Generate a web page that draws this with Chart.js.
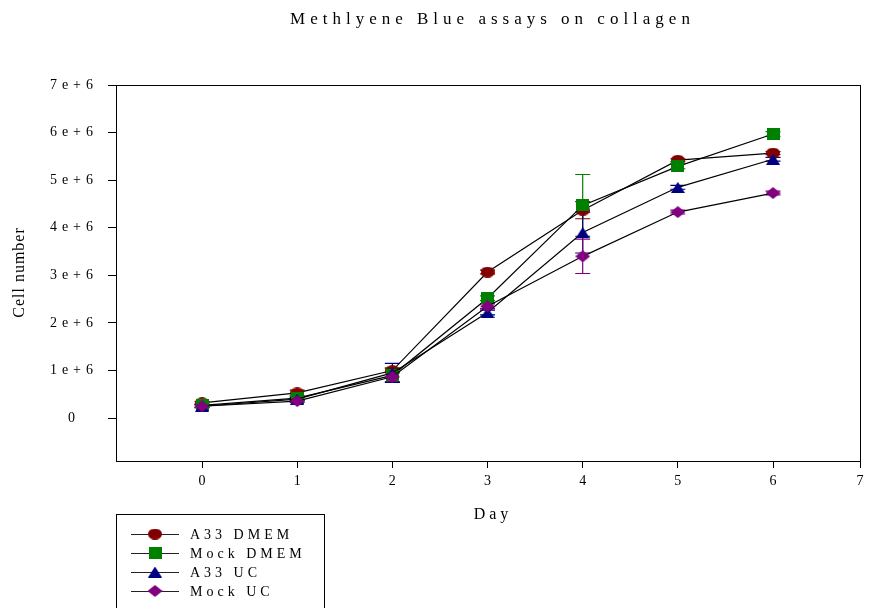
<!DOCTYPE html>
<html>
<head>
<meta charset="utf-8">
<script src="https://cdn.jsdelivr.net/npm/chart.js@4.4.1/dist/chart.umd.min.js"></script>
<style>
  html, body { margin: 0; padding: 0; background: #fff; }
  #wrap { width: 873px; height: 608px; }
</style>
</head>
<body>
<div id="wrap"><canvas id="c" width="873" height="608"></canvas></div>
<script>
// Cell counts (Methylene Blue assay) per day, with error bar half-widths
const days = [0, 1, 2, 3, 4, 5, 6];
const seriesNames = ['A33 DMEM', 'Mock DMEM', 'A33 UC', 'Mock UC'];
const a33Dmem    = [0.32e6, 0.53e6, 1.00e6, 3.07e6, 4.37e6, 5.42e6, 5.57e6];
const mockDmem   = [0.27e6, 0.42e6, 0.90e6, 2.52e6, 4.47e6, 5.29e6, 5.97e6];
const a33Uc      = [0.25e6, 0.40e6, 0.95e6, 2.22e6, 3.90e6, 4.85e6, 5.44e6];
const mockUc     = [0.25e6, 0.36e6, 0.87e6, 2.35e6, 3.40e6, 4.33e6, 4.73e6];
const a33DmemErr  = [0.03e6, 0.06e6, 0.05e6, 0.04e6, 0.18e6, 0.03e6, 0.03e6];
const mockDmemErr = [0.03e6, 0.04e6, 0.15e6, 0.05e6, 0.65e6, 0.05e6, 0.05e6];
const a33UcErr    = [0.03e6, 0.03e6, 0.20e6, 0.05e6, 0.43e6, 0.04e6, 0.04e6];
const mockUcErr   = [0.03e6, 0.03e6, 0.10e6, 0.05e6, 0.36e6, 0.04e6, 0.04e6];
const xTickValues = [0, 1, 2, 3, 4, 5, 6, 7];
const yTickValues = [0, 1e6, 2e6, 3e6, 4e6, 5e6, 6e6, 7e6];

const seriesValues = [a33Dmem, mockDmem, a33Uc, mockUc];
const seriesErrors = [a33DmemErr, mockDmemErr, a33UcErr, mockUcErr];
const seriesColors = ['#800000', '#008000', '#000080', '#800080'];
const seriesShapes = ['ellipse', 'square', 'triangle', 'diamond'];
const shapeSizes = { ellipse: [14, 11], square: [13, 12], triangle: [14, 11], diamond: [15, 12] };

const SERIF = '"Liberation Serif", "Times New Roman", serif';

function makeMarker(shape, color) {
  const [w, h] = shapeSizes[shape];
  const c = document.createElement('canvas');
  c.width = w; c.height = h;
  const g = c.getContext('2d');
  g.fillStyle = color;
  g.beginPath();
  if (shape === 'ellipse') g.ellipse(w / 2, h / 2, w / 2, h / 2, 0, 0, Math.PI * 2);
  else if (shape === 'square') g.rect(0, 0, w, h);
  else if (shape === 'triangle') { g.moveTo(w / 2, 0); g.lineTo(w, h); g.lineTo(0, h); g.closePath(); }
  else { g.moveTo(w / 2, 0); g.lineTo(w, h / 2); g.lineTo(w / 2, h); g.lineTo(0, h / 2); g.closePath(); }
  g.fill();
  return c;
}
const markers = seriesShapes.map((s, i) => makeMarker(s, seriesColors[i]));

// Draw a scale's tick labels with spaced-out lettering
function spaceLabels(scale, spacing) {
  if (scale._spacedLabels) return;
  const orig = scale.drawLabels.bind(scale);
  scale.drawLabels = area => {
    const ctx = scale.ctx;
    const prev = ctx.letterSpacing;
    ctx.letterSpacing = spacing;
    orig(area);
    ctx.letterSpacing = prev;
  };
  scale._spacedLabels = true;
}

// Vertical error bars with caps, behind the markers
const errorBarPlugin = {
  id: 'errorBars',
  beforeDatasetsDraw(chart) {
    const ctx = chart.ctx;
    const xs = chart.scales.x, ys = chart.scales.y;
    ctx.save();
    ctx.lineWidth = 1.2;
    seriesValues.forEach((vals, i) => {
      ctx.strokeStyle = seriesColors[i];
      vals.forEach((v, j) => {
        const e = seriesErrors[i][j];
        const px = xs.getPixelForValue(days[j]);
        const yTop = ys.getPixelForValue(v + e);
        const yBot = ys.getPixelForValue(v - e);
        ctx.beginPath();
        ctx.moveTo(px, yTop); ctx.lineTo(px, yBot);
        ctx.moveTo(px - 7.5, yTop); ctx.lineTo(px + 7.5, yTop);
        ctx.moveTo(px - 7.5, yBot); ctx.lineTo(px + 7.5, yBot);
        ctx.stroke();
      });
    });
    ctx.restore();
  }
};

// Frame, titles and the boxed legend
const decorPlugin = {
  id: 'decor',
  afterDraw(chart) {
    const ctx = chart.ctx;
    const a = chart.chartArea;
    ctx.save();
    ctx.letterSpacing = '0px';
    ctx.strokeStyle = '#000';
    ctx.lineWidth = 1;
    ctx.strokeRect(Math.round(a.left) + 0.5, Math.round(a.top) + 0.5,
                   Math.round(a.right - a.left), Math.round(a.bottom - a.top));

    ctx.fillStyle = '#000';
    ctx.textBaseline = 'middle';
    ctx.textAlign = 'center';

    // chart title
    ctx.font = '17px ' + SERIF;
    ctx.letterSpacing = '5px';
    ctx.fillText('Methlyene Blue assays on collagen', 490 + 2.5, 20);

    // x axis title
    ctx.font = '16px ' + SERIF;
    ctx.letterSpacing = '4px';
    ctx.fillText('Day', 491 + 2, 515);

    // y axis title
    ctx.save();
    ctx.translate(20, 273);
    ctx.rotate(-Math.PI / 2);
    ctx.font = '16px ' + SERIF;
    ctx.letterSpacing = '1px';
    ctx.fillText('Cell number', 0.5, 0);
    ctx.restore();

    // legend
    ctx.letterSpacing = '0px';
    ctx.strokeStyle = '#000';
    ctx.strokeRect(116.5, 514.5, 208, 110);
    ctx.font = '14px ' + SERIF;
    ctx.letterSpacing = '4px';
    ctx.textAlign = 'left';
    seriesNames.forEach((name, i) => {
      const y = 534 + i * 19;
      ctx.beginPath();
      ctx.strokeStyle = '#222';
      ctx.lineWidth = 1;
      ctx.moveTo(131, y + 0.5); ctx.lineTo(179, y + 0.5);
      ctx.stroke();
      const m = markers[i];
      ctx.drawImage(m, 155 - m.width / 2, y - m.height / 2);
      ctx.fillText(name, 190, y + 1);
    });
    ctx.restore();
  }
};

const fmtY = v => (v === 0 ? '0' : (v / 1e6) + 'e+6');

new Chart(document.getElementById('c'), {
  type: 'line',
  data: {
    datasets: seriesNames.map((name, i) => ({
      label: name,
      data: days.map((d, j) => ({ x: d, y: seriesValues[i][j] })),
      borderColor: '#000',
      borderWidth: 1.2,
      fill: false,
      tension: 0,
      pointStyle: markers[i],
      pointRadius: 6,
      pointHoverRadius: 6,
      order: 4 - i
    }))
  },
  options: {
    responsive: false,
    animation: false,
    devicePixelRatio: 1,
    layout: { padding: { top: 85, right: 13, left: 0, bottom: 0 } },
    plugins: { legend: { display: false }, title: { display: false }, tooltip: { enabled: false } },
    scales: {
      x: {
        type: 'linear',
        min: -0.904,
        max: 6.914,
        // the last tick sits on the right edge of the axis
        afterBuildTicks: s => { s.ticks = xTickValues.map(v => ({ value: Math.min(v, s.max) })); },
        afterFit: s => { s.height = 147; },
        ticks: { color: '#000', font: { family: SERIF, size: 14 }, padding: 5, maxRotation: 0, autoSkip: false,
                 callback: v => String(Math.round(v)) },
        grid: { display: true, drawOnChartArea: false, drawTicks: true, tickLength: 7, color: '#000' },
        border: { display: true, color: '#000' }
      },
      y: {
        type: 'linear',
        min: -0.9e6,
        max: 7e6,
        afterBuildTicks: s => { s.ticks = yTickValues.map(v => ({ value: v })); },
        afterFit: s => { s.width = 116; spaceLabels(s, '5px'); },
        ticks: { color: '#000', font: { family: SERIF, size: 14 }, padding: 20, crossAlign: 'center', callback: fmtY, autoSkip: false },
        grid: { display: true, drawOnChartArea: false, drawTicks: true, tickLength: 8, color: '#000' },
        border: { display: true, color: '#000' }
      }
    }
  },
  plugins: [errorBarPlugin, decorPlugin]
});
</script>
</body>
</html>
